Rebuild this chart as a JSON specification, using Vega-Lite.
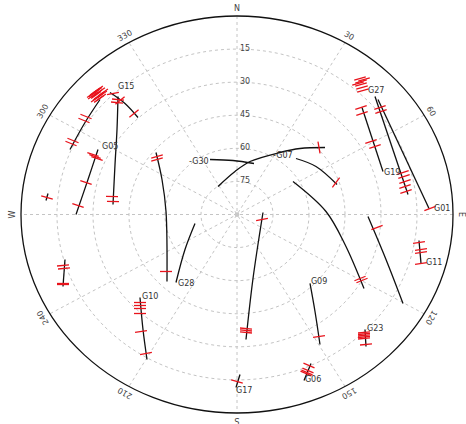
{
  "$schema": "https://vega.github.io/schema/vega-lite/v6.json",
  "width": 432,
  "height": 397,
  "autosize": {"type": "none"},
  "padding": {"left": 21, "top": 16, "right": 13, "bottom": 11},
  "background": "white",
  "config": {"view": {"stroke": null}},
  "datasets": {
    "rings": [
      {"z": 15, "kind": "grid"}, {"z": 30, "kind": "grid"}, {"z": 45, "kind": "grid"},
      {"z": 60, "kind": "grid"}, {"z": 75, "kind": "grid"}, {"z": 90, "kind": "outer"}
    ],
    "spokes": [
      {"az": 0, "e": 0, "n": 90, "e2": 0, "n2": -90},
      {"az": 30, "e": 45, "n": 77.94, "e2": -45, "n2": -77.94},
      {"az": 60, "e": 77.94, "n": 45, "e2": -77.94, "n2": -45},
      {"az": 90, "e": 90, "n": 0, "e2": -90, "n2": 0},
      {"az": 120, "e": 77.94, "n": -45, "e2": -77.94, "n2": 45},
      {"az": 150, "e": 45, "n": -77.94, "e2": -45, "n2": 77.94}
    ],
    "azlabels": [
      {"t": "N", "az": 0, "e": 0, "n": 91.5},
      {"t": "30", "az": 30, "e": 45.75, "n": 79.24},
      {"t": "60", "az": 60, "e": 79.24, "n": 45.75},
      {"t": "E", "az": 90, "e": 91.5, "n": 0},
      {"t": "120", "az": 120, "e": 79.24, "n": -45.75},
      {"t": "150", "az": 150, "e": 45.75, "n": -79.24},
      {"t": "S", "az": 180, "e": 0, "n": -91.5},
      {"t": "210", "az": 210, "e": -45.75, "n": -79.24},
      {"t": "240", "az": 240, "e": -79.24, "n": -45.75},
      {"t": "W", "az": 270, "e": -91.5, "n": 0},
      {"t": "300", "az": 300, "e": -79.24, "n": 45.75},
      {"t": "330", "az": 330, "e": -45.75, "n": 79.24}
    ],
    "elevlabels": [
      {"t": "15", "z": 75}, {"t": "30", "z": 60}, {"t": "45", "z": 45},
      {"t": "60", "z": 30}, {"t": "75", "z": 15}
    ],
    "tracks": [
      {"id": "T1", "i": 0, "e": -57.08, "n": 52.14}, {"id": "T1", "i": 1, "e": -63.33, "n": 41.71}, {"id": "T1", "i": 2, "e": -69.58, "n": 29.47},
      {"id": "T2", "i": 0, "e": -49.58, "n": 53.5}, {"id": "T2", "i": 1, "e": -50.0, "n": 38.54}, {"id": "T2", "i": 2, "e": -50.83, "n": 22.67}, {"id": "T2", "i": 3, "e": -51.67, "n": 4.53},
      {"id": "T3", "i": 0, "e": -52.92, "n": 55.31}, {"id": "T3", "i": 1, "e": -46.67, "n": 50.33}, {"id": "T3", "i": 2, "e": -41.25, "n": 43.98},
      {"id": "G05", "i": 0, "e": -57.92, "n": 29.47}, {"id": "G05", "i": 1, "e": -62.08, "n": 15.87}, {"id": "G05", "i": 2, "e": -67.08, "n": 0},
      {"id": "T5", "i": 0, "e": -78.75, "n": 9.52}, {"id": "T5", "i": 1, "e": -79.58, "n": 6.35},
      {"id": "G30", "i": 0, "e": -11.25, "n": 24.94}, {"id": "G30", "i": 1, "e": -1.67, "n": 24.48}, {"id": "G30", "i": 2, "e": 7.08, "n": 23.12},
      {"id": "T7", "i": 0, "e": -7.92, "n": 12.7}, {"id": "T7", "i": 1, "e": -0.83, "n": 19.5}, {"id": "T7", "i": 2, "e": 5.42, "n": 24.03}, {"id": "T7", "i": 3, "e": 17.92, "n": 28.11}, {"id": "T7", "i": 4, "e": 26.25, "n": 29.92}, {"id": "T7", "i": 5, "e": 36.67, "n": 30.38},
      {"id": "G07", "i": 0, "e": 24.58, "n": 25.39}, {"id": "G07", "i": 1, "e": 32.92, "n": 21.76}, {"id": "G07", "i": 2, "e": 41.67, "n": 13.6},
      {"id": "T9", "i": 0, "e": 23.33, "n": 14.96}, {"id": "T9", "i": 1, "e": 37.08, "n": 1.36}, {"id": "T9", "i": 2, "e": 45.0, "n": -13.6}, {"id": "T9", "i": 3, "e": 52.92, "n": -33.55},
      {"id": "T10", "i": 0, "e": 54.58, "n": -0.91}, {"id": "T10", "i": 1, "e": 62.08, "n": -20.4}, {"id": "T10", "i": 2, "e": 69.17, "n": -40.35},
      {"id": "G19", "i": 0, "e": 52.08, "n": 48.51}, {"id": "G19", "i": 1, "e": 60.83, "n": 19.5},
      {"id": "T12", "i": 0, "e": 57.5, "n": 53.5}, {"id": "T12", "i": 1, "e": 71.25, "n": 9.07},
      {"id": "G01", "i": 0, "e": 58.75, "n": 52.14}, {"id": "G01", "i": 1, "e": 80.0, "n": 2.72},
      {"id": "G11", "i": 0, "e": 75.83, "n": -11.79}, {"id": "G11", "i": 1, "e": 76.67, "n": -22.22},
      {"id": "G23", "i": 0, "e": 53.33, "n": -52.14}, {"id": "G23", "i": 1, "e": 53.75, "n": -59.85},
      {"id": "G09", "i": 0, "e": 30.42, "n": -31.28}, {"id": "G09", "i": 1, "e": 32.5, "n": -43.98}, {"id": "G09", "i": 2, "e": 34.58, "n": -58.94},
      {"id": "G06", "i": 0, "e": 30.83, "n": -67.56}, {"id": "G06", "i": 1, "e": 27.92, "n": -75.26},
      {"id": "G17", "i": 0, "e": 1.25, "n": -72.54}, {"id": "G17", "i": 1, "e": -0.42, "n": -78.44},
      {"id": "T19", "i": 0, "e": 10.83, "n": 0.91}, {"id": "T19", "i": 1, "e": 6.67, "n": -29.02}, {"id": "T19", "i": 2, "e": 3.75, "n": -56.68},
      {"id": "T20", "i": 0, "e": -71.67, "n": -20.4}, {"id": "T20", "i": 1, "e": -72.5, "n": -32.64},
      {"id": "G10", "i": 0, "e": -40.42, "n": -37.63}, {"id": "G10", "i": 1, "e": -39.17, "n": -52.14}, {"id": "G10", "i": 2, "e": -37.5, "n": -65.74},
      {"id": "G28", "i": 0, "e": -25.42, "n": -30.83}, {"id": "G28", "i": 1, "e": -21.67, "n": -15.87}, {"id": "G28", "i": 2, "e": -17.5, "n": -4.08},
      {"id": "T23", "i": 0, "e": -33.75, "n": 28.11}, {"id": "T23", "i": 1, "e": -31.25, "n": 15.87}, {"id": "T23", "i": 2, "e": -29.58, "n": 1.36}, {"id": "T23", "i": 3, "e": -29.17, "n": -30.38}
    ],
    "ticks": [
      {"e": -62.92, "n": 44.43, "a": 22}, {"e": -63.75, "n": 42.62, "a": 22}, {"e": -68.33, "n": 33.55, "a": 22}, {"e": -69.17, "n": 32.19, "a": 22},
      {"e": -50.0, "n": 50.78, "a": 5}, {"e": -49.58, "n": 52.14, "a": 5}, {"e": -52.08, "n": 8.16, "a": 2}, {"e": -51.67, "n": 5.89, "a": 2},
      {"e": -48.75, "n": 51.69, "a": -40}, {"e": -42.92, "n": 45.79, "a": -40},
      {"e": -59.17, "n": 55.77, "a": -35}, {"e": -58.33, "n": 54.86, "a": -35}, {"e": -57.5, "n": 53.95, "a": -35}, {"e": -56.67, "n": 53.05, "a": -35},
      {"e": -60.0, "n": 53.95, "a": -35}, {"e": -55.83, "n": 55.31, "a": -35}, {"e": -57.92, "n": 56.68, "a": -35}, {"e": -58.75, "n": 52.59, "a": -35},
      {"e": -59.58, "n": 55.0, "a": -35}, {"e": -58.75, "n": 54.2, "a": -35}, {"e": -57.92, "n": 53.3, "a": -35}, {"e": -57.08, "n": 55.9, "a": -35},
      {"e": -56.25, "n": 54.4, "a": -35}, {"e": -60.42, "n": 54.6, "a": -35}, {"e": -58.33, "n": 56.0, "a": -35}, {"e": -57.5, "n": 52.4, "a": -35},
      {"e": -51.67, "n": 54.86, "a": -10},
      {"e": -60.0, "n": 27.2, "a": 19}, {"e": -59.17, "n": 26.3, "a": 19}, {"e": -58.33, "n": 25.39, "a": 19}, {"e": -62.92, "n": 14.51, "a": 19}, {"e": -66.25, "n": 4.08, "a": 19},
      {"e": -79.17, "n": 7.71, "a": 15},
      {"e": 34.17, "n": 30.38, "a": 80},
      {"e": 41.25, "n": 14.51, "a": -53},
      {"e": 51.25, "n": -29.02, "a": -22}, {"e": 52.08, "n": -29.92, "a": -22},
      {"e": 58.33, "n": -5.89, "a": -20},
      {"e": 51.67, "n": 48.51, "a": -18}, {"e": 52.08, "n": 45.79, "a": -18}, {"e": 55.83, "n": 33.1, "a": -18}, {"e": 57.5, "n": 30.83, "a": -18},
      {"e": 59.58, "n": 48.51, "a": -19}, {"e": 60.0, "n": 46.7, "a": -19}, {"e": 69.17, "n": 19.04, "a": -19}, {"e": 69.58, "n": 17.23, "a": -19},
      {"e": 70.0, "n": 14.96, "a": -19}, {"e": 70.0, "n": 12.7, "a": -19}, {"e": 70.42, "n": 10.43, "a": -19},
      {"e": 51.25, "n": 61.66, "a": -15}, {"e": 51.67, "n": 60.3, "a": -15}, {"e": 51.67, "n": 58.94, "a": -15}, {"e": 52.08, "n": 57.58, "a": -15},
      {"e": 52.5, "n": 56.22, "a": -15}, {"e": 50.42, "n": 59.39, "a": -15}, {"e": 52.92, "n": 61.21, "a": -15},
      {"e": 80.42, "n": 2.72, "a": -20},
      {"e": 75.83, "n": -12.7, "a": -8}, {"e": 76.67, "n": -15.87, "a": -8}, {"e": 76.67, "n": -17.23, "a": -8}, {"e": 76.67, "n": -22.22, "a": -8},
      {"e": 52.92, "n": -53.5, "a": -5}, {"e": 52.92, "n": -54.18, "a": -5}, {"e": 52.92, "n": -54.86, "a": -5}, {"e": 52.92, "n": -55.54, "a": -5},
      {"e": 52.92, "n": -56.22, "a": -5}, {"e": 53.75, "n": -58.94, "a": -5},
      {"e": 34.17, "n": -55.31, "a": -8},
      {"e": 30.0, "n": -68.46, "a": 23}, {"e": 29.58, "n": -70.73, "a": 23}, {"e": 29.17, "n": -71.63, "a": 23}, {"e": 28.75, "n": -72.09, "a": 23},
      {"e": 0, "n": -75.72, "a": 15},
      {"e": 10.42, "n": -2.27, "a": -10}, {"e": 3.75, "n": -51.69, "a": 5}, {"e": 3.75, "n": -52.59, "a": 5}, {"e": 3.75, "n": -53.5, "a": 5},
      {"e": -72.5, "n": -23.12, "a": -5}, {"e": -72.08, "n": -24.48, "a": -5}, {"e": -72.5, "n": -31.28, "a": 0}, {"e": -72.5, "n": -31.74, "a": 0},
      {"e": -40.42, "n": -39.9, "a": 0}, {"e": -40.42, "n": -41.26, "a": 0}, {"e": -40.42, "n": -42.62, "a": 0}, {"e": -40.42, "n": -44.89, "a": 0},
      {"e": -40.0, "n": -53.05, "a": -8}, {"e": -37.92, "n": -63.02, "a": -10},
      {"e": -33.33, "n": 26.3, "a": -15}, {"e": -33.33, "n": 24.94, "a": -15}, {"e": -29.58, "n": -25.84, "a": 0}
    ],
    "satlabels": [
      {"t": "G15", "e": -49.6, "n": 57.6},
      {"t": "G05", "e": -56.25, "n": 30.4},
      {"t": "-G30", "e": -20.0, "n": 23.6},
      {"t": "-G07", "e": 15.0, "n": 26.3},
      {"t": "G27", "e": 54.6, "n": 55.8},
      {"t": "G19", "e": 61.25, "n": 19.0},
      {"t": "G01", "e": 82.1, "n": 2.3},
      {"t": "G11", "e": 78.75, "n": -22.2},
      {"t": "G23", "e": 54.2, "n": -52.1},
      {"t": "G09", "e": 30.8, "n": -30.8},
      {"t": "G06", "e": 28.3, "n": -75.2},
      {"t": "G17", "e": -0.4, "n": -79.8},
      {"t": "G10", "e": -39.6, "n": -37.6},
      {"t": "G28", "e": -24.6, "n": -31.3}
    ]
  },
  "layer": [
    {
      "data": {"name": "spokes"},
      "mark": {"type": "rule", "color": "#c4c4c4", "strokeDash": [3, 3], "strokeWidth": 1},
      "encoding": {
        "x": {"field": "e", "type": "quantitative", "scale": {"domain": [-90, 90], "nice": false, "zero": false}, "axis": null},
        "y": {"field": "n", "type": "quantitative", "scale": {"domain": [-90, 90], "nice": false, "zero": false}, "axis": null},
        "x2": {"field": "e2"},
        "y2": {"field": "n2"}
      }
    },
    {
      "data": {"name": "rings"},
      "transform": [{"filter": "datum.kind == 'grid'"}],
      "mark": {"type": "point", "filled": false, "color": "#c4c4c4", "strokeDash": [3, 3], "strokeWidth": 1, "opacity": 1,
        "shape": "M 1.0882 0 C 1.0882 0.5523 0.601 1 0 1 C -0.601 1 -1.0882 0.5523 -1.0882 0 C -1.0882 -0.5523 -0.601 -1 0 -1 C 0.601 -1 1.0882 -0.5523 1.0882 0 Z"},
      "encoding": {
        "x": {"datum": 0, "type": "quantitative"},
        "y": {"datum": 0, "type": "quantitative"},
        "size": {"field": "z", "type": "quantitative", "scale": {"type": "pow", "exponent": 2, "domain": [0, 90], "range": [0, 157609]}, "legend": null}
      }
    },
    {
      "data": {"name": "rings"},
      "transform": [{"filter": "datum.kind == 'outer'"}],
      "mark": {"type": "point", "filled": false, "color": "#111111", "strokeWidth": 1.3, "opacity": 1,
        "shape": "M 1.0882 0 C 1.0882 0.5523 0.601 1 0 1 C -0.601 1 -1.0882 0.5523 -1.0882 0 C -1.0882 -0.5523 -0.601 -1 0 -1 C 0.601 -1 1.0882 -0.5523 1.0882 0 Z"},
      "encoding": {
        "x": {"datum": 0, "type": "quantitative"},
        "y": {"datum": 0, "type": "quantitative"},
        "size": {"field": "z", "type": "quantitative", "scale": {"type": "pow", "exponent": 2, "domain": [0, 90], "range": [0, 157609]}, "legend": null}
      }
    },
    {
      "data": {"values": [{"c": 0}]},
      "mark": {"type": "point", "filled": true, "color": "#c8c8c8", "size": 22, "opacity": 1},
      "encoding": {
        "x": {"datum": 0, "type": "quantitative"},
        "y": {"datum": 0, "type": "quantitative"}
      }
    },
    {
      "data": {"name": "elevlabels"},
      "mark": {"type": "text", "align": "left", "baseline": "middle", "dx": 3, "font": "DejaVu Sans", "fontSize": 8, "color": "#444444"},
      "encoding": {
        "x": {"datum": 0, "type": "quantitative"},
        "y": {"field": "z", "type": "quantitative"},
        "text": {"field": "t"}
      }
    },
    {
      "data": {"name": "azlabels"},
      "mark": {"type": "text", "align": "center", "baseline": "bottom", "font": "DejaVu Sans", "fontSize": 8, "color": "#444444"},
      "encoding": {
        "x": {"field": "e", "type": "quantitative"},
        "y": {"field": "n", "type": "quantitative"},
        "angle": {"field": "az", "type": "quantitative", "scale": null},
        "text": {"field": "t"}
      }
    },
    {
      "data": {"name": "tracks"},
      "mark": {"type": "line", "color": "#111111", "strokeWidth": 1.3, "interpolate": "catmull-rom"},
      "encoding": {
        "x": {"field": "e", "type": "quantitative"},
        "y": {"field": "n", "type": "quantitative"},
        "detail": {"field": "id"},
        "order": {"field": "i", "type": "quantitative"}
      }
    },
    {
      "data": {"name": "ticks"},
      "mark": {"type": "point", "shape": "stroke", "filled": false, "color": "#e8141c", "size": 144, "strokeWidth": 1.3, "opacity": 1},
      "encoding": {
        "x": {"field": "e", "type": "quantitative"},
        "y": {"field": "n", "type": "quantitative"},
        "angle": {"field": "a", "type": "quantitative", "scale": null}
      }
    },
    {
      "data": {"name": "satlabels"},
      "mark": {"type": "text", "align": "left", "baseline": "middle", "font": "DejaVu Sans", "fontSize": 8, "color": "#333333"},
      "encoding": {
        "x": {"field": "e", "type": "quantitative"},
        "y": {"field": "n", "type": "quantitative"},
        "text": {"field": "t"}
      }
    }
  ]
}
